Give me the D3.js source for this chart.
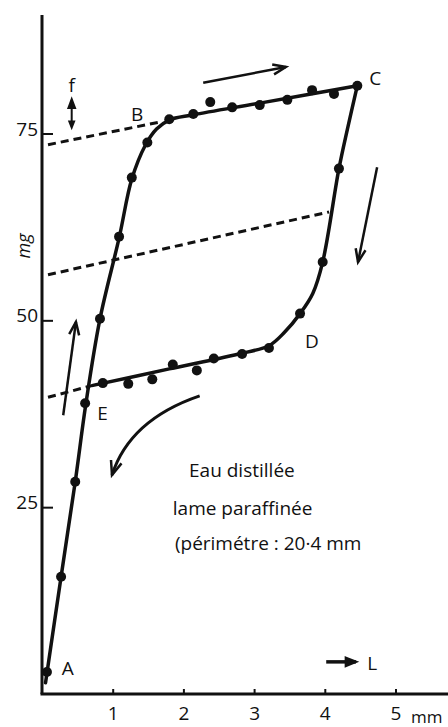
<!DOCTYPE html>
<html>
<head>
<meta charset="utf-8">
<script src="https://cdn.jsdelivr.net/npm/d3@7"></script>
<style>
body { margin: 0; background: #fff; }
svg text { font-family: "Open Sans", sans-serif; fill: #111; }
</style>
</head>
<body>
<svg width="448" height="727"></svg>
<script>
// tick labels
var xTicks = [1, 2, 3, 4, 5];
var yTicks = [25, 50, 75];

// measured points (mm, mg) - rising branch A -> B -> C
var risePts = [[0.07, 2.95], [0.27, 15.7], [0.47, 28.4], [0.61, 38.9], [0.82, 50.2],
               [1.09, 61.2], [1.27, 69.1], [1.49, 73.8], [1.80, 76.9], [2.14, 77.6],
               [2.38, 79.2], [2.69, 78.5], [3.08, 78.8], [3.47, 79.5], [3.82, 80.8],
               [4.13, 80.3], [4.46, 81.4]];
// falling branch C -> D -> E
var fallPts = [[4.20, 70.3], [3.97, 57.8], [3.65, 50.9], [3.21, 46.3], [2.83, 45.5],
               [2.43, 44.9], [2.19, 43.3], [1.85, 44.1], [1.56, 42.1], [1.22, 41.5],
               [0.86, 41.6]];

// hand drawn curves through the points
var riseCurve = [[0.05, 1.5], [0.27, 15.7], [0.47, 28.4], [0.62, 38.8], [0.82, 50.2],
                 [1.09, 61.0], [1.27, 68.9], [1.46, 73.4], [1.62, 75.6], [1.80, 76.8],
                 [2.14, 77.5], [3.10, 79.1], [4.46, 81.4]];
var fallCurve = [[4.46, 81.4], [4.32, 75.6], [4.20, 70.3], [3.97, 57.8], [3.83, 53.6],
                 [3.65, 50.9], [3.43, 48.4], [3.21, 46.6], [2.83, 45.6], [1.80, 43.5],
                 [0.72, 41.3]];

// dashed extrapolations
var dashTop = [[0.085, 73.5], [1.70, 76.6]];
var dashMid = [[0.085, 56.1], [4.06, 64.5]];
var dashLow = [[0.085, 39.7], [0.72, 41.3]];

// letters on the loop
var pointNames = ['A', 'B', 'C', 'D', 'E'];
var pointNamePos = [[0.28, 2.5], [1.26, 76.7], [4.63, 81.5], [3.72, 46.3], [0.78, 36.7]];

var noteLines = ['Eau distillée', 'lame paraffinée', '(périmétre : 20·4 mm'];
var notePos = [[2.08, 29.0], [1.85, 24.0], [1.88, 19.3]];

// direction arrows [from, to]
var moveArrows = [[[2.28, 81.8], [3.45, 83.9]],
                  [[4.74, 70.5], [4.47, 57.8]],
                  [[0.30, 37.3], [0.48, 49.8]]];
var curveArrow = [[2.23, 39.9], [1.24, 36.7], [0.99, 29.3]];
var fArrow = [[0.42, 75.9], [0.42, 79.5]];
var lArrow = [[4.02, 4.3], [4.44, 4.3]];

var svg = d3.select('svg');

var x = d3.scaleLinear().domain([0, 5]).range([42, 395.5]);
var y = d3.scaleLinear().domain([0, 75]).range([694, 133.5]);

var ink = '#111';

// axes lines
svg.append('line')
    .attr('x1', x(0)).attr('x2', x(0))
    .attr('y1', 15).attr('y2', y(0))
    .attr('stroke', ink).attr('stroke-width', 3);
svg.append('line')
    .attr('x1', x(0) - 1.5).attr('x2', 448)
    .attr('y1', y(0)).attr('y2', y(0))
    .attr('stroke', ink).attr('stroke-width', 3);

var xAxis = svg.append('g')
    .attr('transform', `translate(0, ${y(0)})`)
    .call(d3.axisBottom(x).tickValues(xTicks).tickFormat(d3.format('d'))
        .tickSizeInner(-5).tickSizeOuter(0).tickPadding(13));
var yAxis = svg.append('g')
    .attr('transform', `translate(${x(0)}, 0)`)
    .call(d3.axisLeft(y).tickValues(yTicks).tickFormat(d3.format('d'))
        .tickSizeInner(-11).tickSizeOuter(0).tickPadding(4));

[xAxis, yAxis].forEach(function (g) {
    g.select('.domain').remove();
    g.selectAll('.tick line').attr('stroke', ink).attr('stroke-width', 2);
    g.selectAll('.tick text').attr('font-size', 19).attr('fill', ink)
        .style('font-family', '"Open Sans", sans-serif');
});
yAxis.selectAll('.tick text').attr('dy', '0.08em');

svg.append('text')
    .attr('x', 411).attr('y', 723)
    .attr('font-size', 17)
    .text('mm');
svg.append('text')
    .attr('transform', 'translate(30, 246) rotate(-90)')
    .attr('text-anchor', 'middle')
    .attr('font-size', 18)
    .attr('font-style', 'italic')
    .text('mg');

// dashed lines
var straight = d3.line().x(d => x(d[0])).y(d => y(d[1]));
[dashTop, dashMid, dashLow].forEach(function (d) {
    svg.append('path')
        .attr('d', straight(d))
        .attr('fill', 'none')
        .attr('stroke', ink)
        .attr('stroke-width', 3)
        .attr('stroke-dasharray', '8,5');
});

// loop
var smooth = d3.line().x(d => x(d[0])).y(d => y(d[1])).curve(d3.curveCatmullRom.alpha(0.5));
[riseCurve, fallCurve].forEach(function (d) {
    svg.append('path')
        .attr('d', smooth(d))
        .attr('fill', 'none')
        .attr('stroke', ink)
        .attr('stroke-width', 3.5)
        .attr('stroke-linejoin', 'round')
        .attr('stroke-linecap', 'round');
});

svg.selectAll('circle.pt')
    .data(risePts.concat(fallPts))
    .enter()
    .append('circle')
    .attr('class', 'pt')
    .attr('cx', d => x(d[0]))
    .attr('cy', d => y(d[1]))
    .attr('r', 5)
    .attr('fill', ink);

svg.selectAll('text.name')
    .data(pointNames)
    .enter()
    .append('text')
    .attr('class', 'name')
    .attr('x', (d, i) => x(pointNamePos[i][0]))
    .attr('y', (d, i) => y(pointNamePos[i][1]))
    .attr('font-size', 19)
    .text(d => d);

svg.selectAll('text.note')
    .data(noteLines)
    .enter()
    .append('text')
    .attr('class', 'note')
    .attr('x', (d, i) => x(notePos[i][0]))
    .attr('y', (d, i) => y(notePos[i][1]))
    .attr('font-size', 19)
    .text(d => d);

// arrow heads
function head(tip, from, len, half, filled) {
    var a = Math.atan2(tip[1] - from[1], tip[0] - from[0]);
    var p1 = [tip[0] - len * Math.cos(a) + half * Math.sin(a), tip[1] - len * Math.sin(a) - half * Math.cos(a)];
    var p2 = [tip[0] - len * Math.cos(a) - half * Math.sin(a), tip[1] - len * Math.sin(a) + half * Math.cos(a)];
    var p = svg.append('path')
        .attr('stroke', ink)
        .attr('stroke-width', 2.5)
        .attr('stroke-linejoin', 'miter');
    if (filled) {
        p.attr('d', `M${p1}L${tip}L${p2}Z`).attr('fill', ink);
    } else {
        p.attr('d', `M${p1}L${tip}L${p2}`).attr('fill', 'none');
    }
}

function px(d) { return [x(d[0]), y(d[1])]; }

moveArrows.forEach(function (d) {
    var a = px(d[0]), b = px(d[1]);
    svg.append('line')
        .attr('x1', a[0]).attr('y1', a[1]).attr('x2', b[0]).attr('y2', b[1])
        .attr('stroke', ink).attr('stroke-width', 2.5);
    head(b, a, 13, 5, false);
});

var c0 = px(curveArrow[0]), c1 = px(curveArrow[1]), c2 = px(curveArrow[2]);
svg.append('path')
    .attr('d', `M${c0}Q${c1} ${c2}`)
    .attr('fill', 'none')
    .attr('stroke', ink)
    .attr('stroke-width', 3);
head(c2, c1, 14, 5.5, false);

var f0 = px(fArrow[0]), f1 = px(fArrow[1]);
svg.append('line')
    .attr('x1', f0[0]).attr('y1', f0[1]).attr('x2', f1[0]).attr('y2', f1[1])
    .attr('stroke', ink).attr('stroke-width', 2);
head(f1, f0, 8, 3, true);
head(f0, f1, 5, 2, true);
svg.append('text')
    .attr('x', f1[0]).attr('y', y(80.6))
    .attr('text-anchor', 'middle')
    .attr('font-size', 19)
    .text('f');

var l0 = px(lArrow[0]), l1 = px(lArrow[1]);
svg.append('line')
    .attr('x1', l0[0]).attr('y1', l0[1]).attr('x2', l1[0]).attr('y2', l1[1])
    .attr('stroke', ink).attr('stroke-width', 3.5);
head(l1, l0, 10, 4, true);
svg.append('text')
    .attr('x', x(4.60)).attr('y', y(3.2))
    .attr('font-size', 19)
    .text('L');
</script>
</body>
</html>
